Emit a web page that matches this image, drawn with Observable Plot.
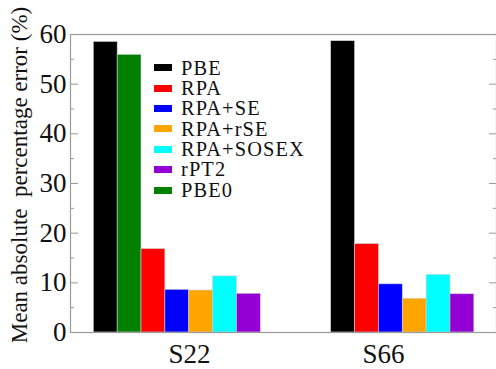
<!DOCTYPE html>
<html>
<head>
<meta charset="utf-8">
<script src="https://cdn.jsdelivr.net/npm/d3@7"></script>
<script src="https://cdn.jsdelivr.net/npm/@observablehq/plot@0.6"></script>
<style>
  html, body { margin: 0; padding: 0; background: #fff; }
  #wrap { position: relative; width: 496px; height: 369px; overflow: hidden; font-family: 'Liberation Serif'; }
  #legend { position: absolute; left: 154px; top: 57.5px; font-family: 'Liberation Serif'; font-size: 20.4px; line-height: 20.4px; color: #111; letter-spacing: 1.1px; }
  #legend .row { display: flex; align-items: center; height: 20.4px; white-space: nowrap; }
  #legend .sw { width: 18px; height: 7px; margin-right: 9px; }
  svg text { font-family: 'Liberation Serif'; }
</style>
</head>
<body>
<div id="wrap"><div id="legend"></div></div>
<script>
// ---- data ----
const groups = ["S22", "S66"];
const methods = ["PBE", "RPA", "RPA+SE", "RPA+rSE", "RPA+SOSEX", "rPT2", "PBE0"];
const methodColors = ["#000000", "#ff0000", "#0000ff", "#ffa500", "#00ffff", "#9400d3", "#008000"];
const s22Methods = ["PBE", "PBE0", "RPA", "RPA+SE", "RPA+rSE", "RPA+SOSEX", "rPT2"];
const s22Values = [58.5, 55.9, 16.8, 8.6, 8.45, 11.3, 7.8];
const s66Methods = ["PBE", "RPA", "RPA+SE", "RPA+rSE", "RPA+SOSEX", "rPT2"];
const s66Values = [58.65, 17.8, 9.7, 6.8, 11.6, 7.7];
const yMajorTicks = [0, 10, 20, 30, 40, 50, 60];
const yMinorTicks = [5, 15, 25, 35, 45, 55];
const yLabel = "Mean absolute\u00a0\u00a0percentage error (%)";

// ---- layout (in bar-width units along x) ----
const groupStart = {S22: 0.977, S66: 10.93};
const groupLabelPos = {S22: 4.99, S66: 13.12};
const xMax = 17.86;

const rows = [];
s22Methods.forEach((m, i) => rows.push({group: "S22", method: m, value: s22Values[i], i}));
s66Methods.forEach((m, i) => rows.push({group: "S66", method: m, value: s66Values[i], i}));

const gray = "#9a9a9a";

const chart = Plot.plot({
  width: 496,
  height: 369,
  marginLeft: 70,
  marginRight: 0,
  marginTop: 34,
  marginBottom: 37,
  style: {fontFamily: "'Liberation Serif'", background: "transparent", color: "#111"},
  x: {domain: [0, xMax], axis: null},
  y: {domain: [0, 60], axis: null},
  color: {domain: methods, range: methodColors},
  marks: [
    Plot.rectY(rows, {
      x1: d => groupStart[d.group] + d.i,
      x2: d => groupStart[d.group] + d.i + 1,
      y: "value",
      fill: "method",
      stroke: "#cfcfcf",
      strokeWidth: 0.6
    }),
    Plot.frame({stroke: gray, strokeWidth: 1.2}),
    Plot.axisY({anchor: "left", ticks: yMajorTicks, tickSize: -8, tickFormat: () => "", stroke: gray, label: null}),
    Plot.axisY({anchor: "left", ticks: yMinorTicks, tickSize: -4, tickFormat: () => "", stroke: gray, label: null}),
    Plot.axisY({anchor: "right", ticks: yMajorTicks, tickSize: -8, tickFormat: () => "", stroke: gray, label: null}),
    Plot.axisY({anchor: "right", ticks: yMinorTicks, tickSize: -4, tickFormat: () => "", stroke: gray, label: null}),
    Plot.axisY({anchor: "left", ticks: yMajorTicks, tickSize: 0, tickPadding: 4, fontSize: 27, fill: "#111", label: null}),
    Plot.axisX({anchor: "bottom", ticks: groups.map(g => groupLabelPos[g]), tickSize: 0, tickPadding: 11,
      tickFormat: (d, i) => groups[i], fontSize: 27, fill: "#111", label: null})
  ]
});

const svg = d3.select(chart);
svg.append("text")
  .attr("transform", "translate(27,175) rotate(-90)")
  .attr("text-anchor", "middle")
  .attr("font-size", 23)
  .attr("fill", "#111")
  .text(yLabel);

const wrap = document.getElementById("wrap");
wrap.insertBefore(chart, wrap.firstChild);

const legend = d3.select("#legend");
methods.forEach((m, i) => {
  const r = legend.append("div").attr("class", "row");
  r.append("div").attr("class", "sw").style("background", methodColors[i]);
  r.append("span").text(m);
});
</script>
</body>
</html>
